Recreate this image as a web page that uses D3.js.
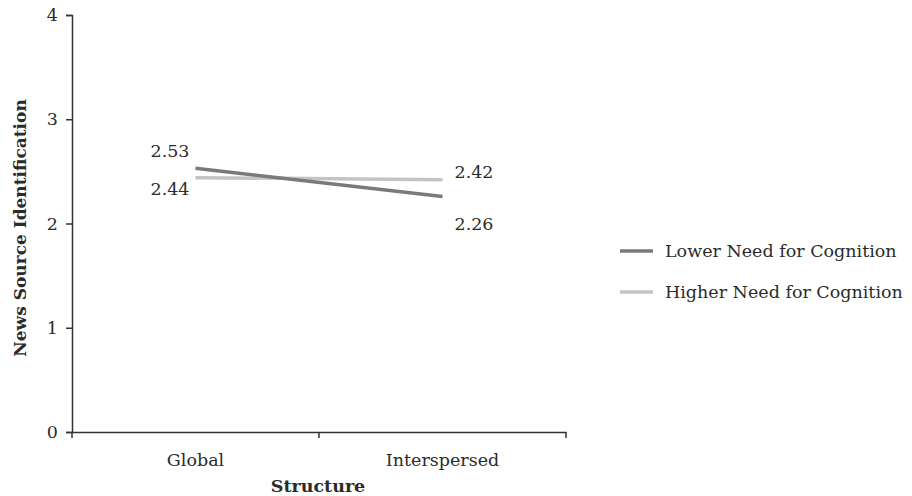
<!DOCTYPE html>
<html><head><meta charset="utf-8">
<script src="https://cdn.jsdelivr.net/npm/d3@7"></script>
<style>body{margin:0;background:#fff;} text{font-family:"DejaVu Serif",serif;fill:#2b2b2b;}</style>
</head><body>
<svg id="c" width="912" height="496"></svg>
<script>
const categories = ["Global", "Interspersed"];
const seriesNames = ["Lower Need for Cognition", "Higher Need for Cognition"];
const lowerValues = [2.53, 2.26];
const higherValues = [2.44, 2.42];
const yTicks = [0, 1, 2, 3, 4];
const colors = ["#7a7a7a", "#c4c4c4"];

(function () {
const svg = d3.select("#c");
const mLeft = 72, mRight = 566, mTop = 15, mBottom = 432;
const FS = 17.5;
const x = d3.scaleBand().domain(categories).range([mLeft, mRight]);
const y = d3.scaleLinear().domain([0, 4]).range([mBottom, mTop]);

const gy = svg.append("g").attr("transform", `translate(${mLeft},0)`)
  .call(d3.axisLeft(y).tickValues(yTicks).tickFormat(d3.format("d")).tickSize(6).tickPadding(8));
gy.select(".domain").attr("stroke", "#333").attr("stroke-width", 1.5);
gy.selectAll(".tick line").attr("stroke", "#333").attr("stroke-width", 1.5);
gy.selectAll("text").attr("font-size", FS).attr("fill", "#2b2b2b").attr("font-family", "DejaVu Serif");

const gx = svg.append("g").attr("transform", `translate(0,${mBottom})`)
  .call(d3.axisBottom(x).tickSize(0).tickPadding(22));
gx.select(".domain").attr("stroke", "#333").attr("stroke-width", 1.5);
gx.selectAll("text").attr("font-size", FS).attr("fill", "#2b2b2b").attr("font-family", "DejaVu Serif");
const bounds = [mLeft, mLeft + x.step(), mRight];
svg.append("g").selectAll("line").data(bounds).join("line")
  .attr("x1", d => d).attr("x2", d => d).attr("y1", mBottom).attr("y2", mBottom + 6)
  .attr("stroke", "#333").attr("stroke-width", 1.5);

svg.append("text").attr("x", 318).attr("y", 492).attr("text-anchor", "middle")
  .attr("font-size", FS).attr("font-weight", "bold").text("Structure");
svg.append("text").attr("transform", `translate(26,228) rotate(-90)`)
  .attr("text-anchor", "middle").attr("font-size", 17).attr("font-weight", "bold").text("News Source Identification");

const series = [lowerValues, higherValues];
const line = d3.line().x((d, i) => x(categories[i]) + x.bandwidth() / 2).y(d => y(d));
[1, 0].forEach(s => {
  svg.append("path").datum(series[s]).attr("d", line)
    .attr("fill", "none").attr("stroke", colors[s]).attr("stroke-width", 3.5);
});

const lab = [
  {s: 0, i: 0, dx: -6, dy: -11, anchor: "end"},
  {s: 1, i: 0, dx: -6, dy: 17, anchor: "end"},
  {s: 1, i: 1, dx: 12, dy: -2, anchor: "start"},
  {s: 0, i: 1, dx: 12, dy: 34, anchor: "start"}
];
svg.append("g").selectAll("text").data(lab).join("text")
  .attr("x", d => x(categories[d.i]) + x.bandwidth() / 2 + d.dx)
  .attr("y", d => y(series[d.s][d.i]) + d.dy)
  .attr("text-anchor", d => d.anchor).attr("font-size", FS)
  .text(d => series[d.s][d.i].toFixed(2));

const lg = svg.append("g").attr("transform", "translate(620,251)");
seriesNames.forEach((n, k) => {
  lg.append("line").attr("x1", 0).attr("x2", 33).attr("y1", k * 41).attr("y2", k * 41)
    .attr("stroke", colors[k]).attr("stroke-width", 3.5);
  lg.append("text").attr("x", 45).attr("y", k * 41 + 6).attr("font-size", FS).text(n);
});
})();
</script>
</body></html>
